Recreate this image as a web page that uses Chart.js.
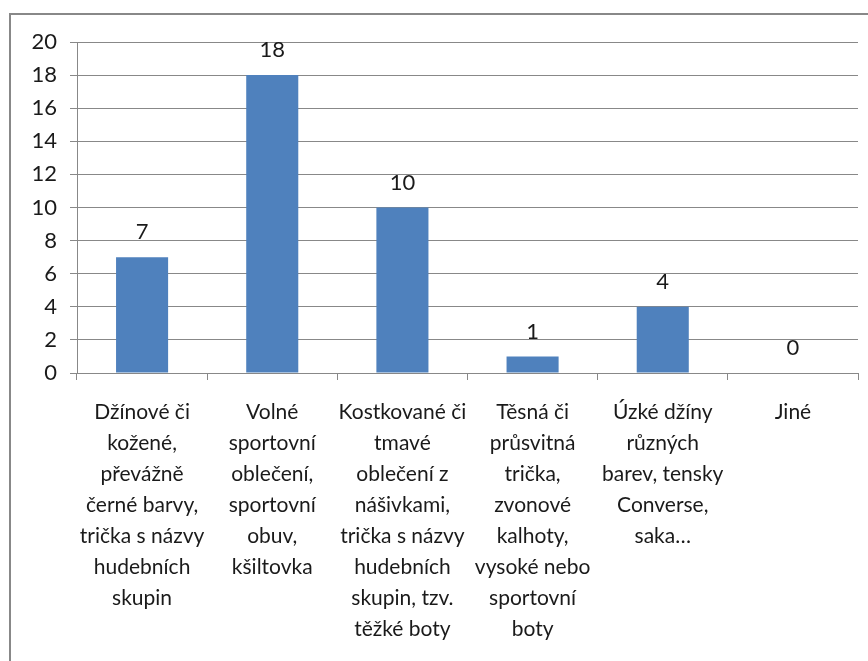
<!DOCTYPE html>
<html>
<head>
<meta charset="utf-8">
<script src="https://cdn.jsdelivr.net/npm/chart.js@4"></script>
<style>
    html, body { margin: 0; padding: 0; background: #fff; overflow: hidden; }
    #frame {
        position: absolute; left: 9px; top: 13px; width: 900px; height: 700px;
        border: 2px solid #888; box-sizing: border-box;
    }
    #wrap { position: absolute; left: 0; top: 0; width: 868px; height: 661px; }
</style>
</head>
<body>
<div id="frame"></div>
<div id="wrap"><canvas id="chart" width="868" height="661"></canvas></div>
<script>
const categories = [
    ['Džínové či', 'kožené,', 'převážně', 'černé barvy,', 'trička s názvy', 'hudebních', 'skupin'],
    ['Volné', 'sportovní', 'oblečení,', 'sportovní', 'obuv,', 'kšiltovka'],
    ['Kostkované či', 'tmavé', 'oblečení z', 'nášivkami,', 'trička s názvy', 'hudebních', 'skupin, tzv.', 'těžké boty'],
    ['Těsná či', 'průsvitná', 'trička,', 'zvonové', 'kalhoty,', 'vysoké nebo', 'sportovní', 'boty'],
    ['Úzké džíny', 'různých', 'barev, tensky', 'Converse,', 'saka…'],
    ['Jiné']
];
const values = [7, 18, 10, 1, 4, 0];
const yMin = 0;
const yMax = 20;
const yStep = 2;

const FONT = 'Lato, "Open Sans", sans-serif';

// value labels above each bar
const barLabels = {
    id: 'barLabels',
    afterDatasetsDraw(chart) {
        const ctx = chart.ctx;
        const meta = chart.getDatasetMeta(0);
        ctx.save();
        ctx.font = '22px ' + FONT;
        ctx.fillStyle = '#1a1a1a';
        ctx.textAlign = 'center';
        ctx.textBaseline = 'middle';
        meta.data.forEach((bar, i) => {
            ctx.fillText(String(values[i]), bar.x, bar.y - 25);
        });
        ctx.restore();
    }
};

new Chart(document.getElementById('chart').getContext('2d'), {
    type: 'bar',
    data: {
        labels: categories,
        datasets: [{
            data: values,
            backgroundColor: '#4F81BD',
            barPercentage: 0.4,
            categoryPercentage: 1.0
        }]
    },
    options: {
        responsive: false,
        animation: false,
        layout: { padding: { top: 42, right: 10, left: 0, bottom: 0 } },
        plugins: { legend: { display: false }, tooltip: { enabled: false } },
        scales: {
            x: {
                afterFit(scale) { scale.height = 288; },
                grid: { drawOnChartArea: false, drawTicks: true, tickLength: 7, color: '#888' },
                border: { color: '#888' },
                ticks: {
                    color: '#1a1a1a',
                    font: { family: FONT, size: 21, lineHeight: 1.476 },
                    padding: 17,
                    maxRotation: 0,
                    autoSkip: false
                }
            },
            y: {
                min: yMin,
                max: yMax,
                afterFit(scale) { scale.width = 77; },
                grid: { color: '#888', tickLength: 7 },
                border: { color: '#888' },
                ticks: {
                    stepSize: yStep,
                    color: '#1a1a1a',
                    font: { family: FONT, size: 22 },
                    padding: 13
                }
            }
        }
    },
    plugins: [barLabels]
});
</script>
</body>
</html>
